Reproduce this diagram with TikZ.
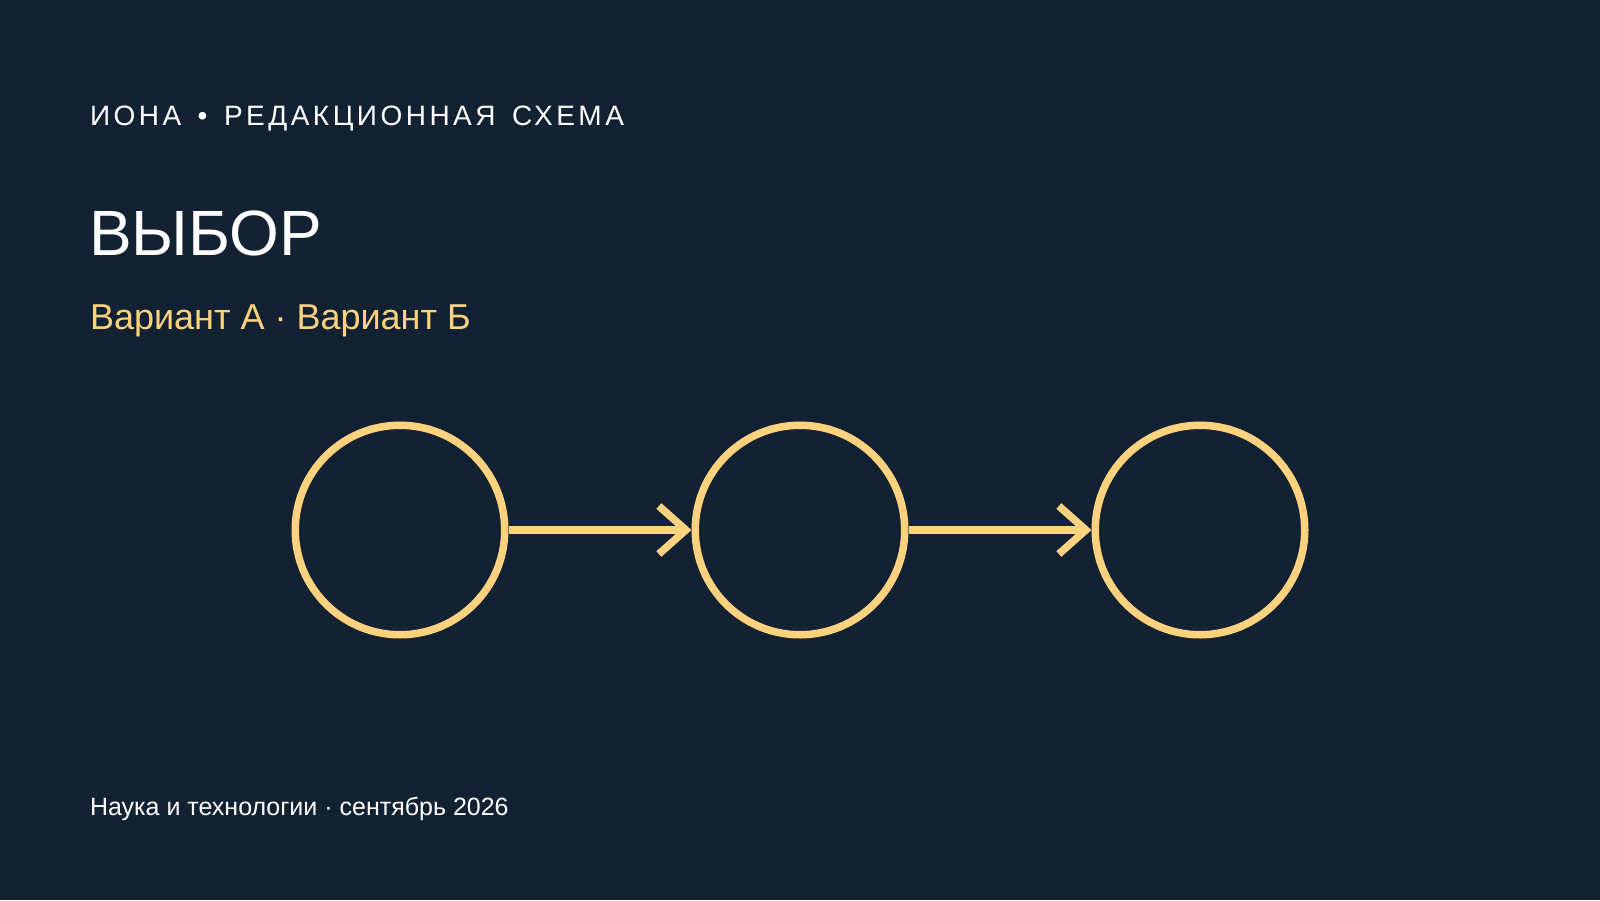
\documentclass[tikz,border=0pt]{standalone}
\usepackage{fontspec}
\setmainfont{Liberation Sans}
\newfontfamily\spacedfont[LetterSpace=12.4,WordSpace=1.47]{Liberation Sans}
\usetikzlibrary{arrows.meta}
\definecolor{bg}{HTML}{122232}
\definecolor{gold}{HTML}{FDD27F}
\definecolor{ink}{HTML}{FFFFFF}
\begin{document}
\begin{tikzpicture}[x=1pt,y=-1pt,
  stage/.style={circle, draw=gold, line width=7.5pt, minimum size=209.5pt, inner sep=0pt},
  conn/.style={draw=gold, line width=7.5pt, -{Straight Barb[length=27pt,width=48pt]}},
  txt/.style={anchor=base west, inner sep=0pt, outer sep=0pt}]
\fill[bg] (0,0) rectangle (1600,900);
\useasboundingbox (0,0) rectangle (1600,900);
\node[txt, text=ink, font=\spacedfont\fontsize{28}{34}\selectfont] (kicker) at (90,125) {ИОНА • РЕДАКЦИОННАЯ СХЕМА};
\node[txt, text=ink, font=\fontsize{64}{76}\selectfont] (title) at (89,255) {ВЫБОР};
\node[txt, text=gold, font=\fontsize{36}{42}\selectfont] (sub) at (90,329.7) {Вариант А · Вариант Б};
\node[txt, text=ink, font=\fontsize{25}{30}\selectfont] (foot) at (90,815) {Наука и технологии · сентябрь 2026};
\node[stage] (c1) at (400,530) {};
\node[stage] (c2) at (800,530) {};
\node[stage] (c3) at (1200,530) {};
\draw[conn] (c1) -- (c2);
\draw[conn] (c2) -- (c3);
\end{tikzpicture}
\end{document}
